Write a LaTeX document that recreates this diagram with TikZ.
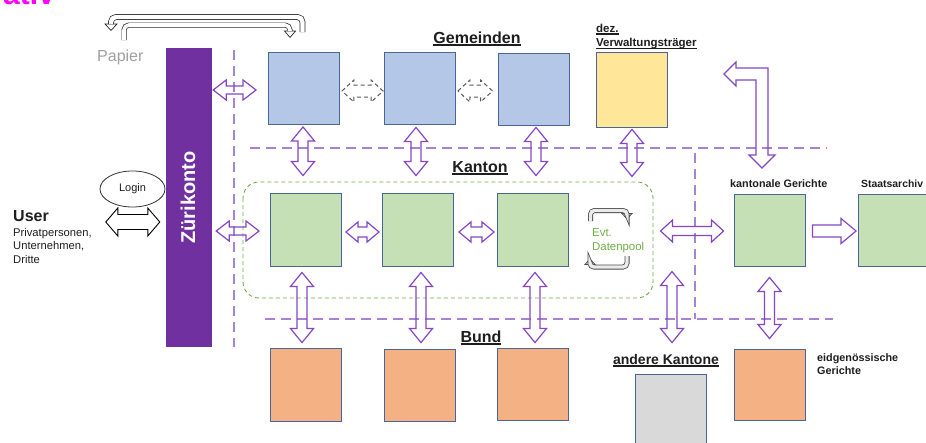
\documentclass[tikz,border=0pt]{standalone}
\usepackage{fontspec}
\setmainfont{Liberation Sans}
\usetikzlibrary{calc,shapes.geometric}
\definecolor{zpurple}{HTML}{7030A0}
\definecolor{apurple}{HTML}{8547C6}
\definecolor{dpurple}{HTML}{A882D6}
\definecolor{bfill}{HTML}{B4C7E7}
\definecolor{yfill}{HTML}{FFE699}
\definecolor{gfill}{HTML}{C5E0B4}
\definecolor{ofill}{HTML}{F4B183}
\definecolor{grfill}{HTML}{D9D9D9}
\definecolor{bline}{HTML}{4A6699}
\definecolor{dgreen}{HTML}{70AD47}
\definecolor{mag}{HTML}{FF00FF}
\definecolor{txt}{HTML}{1E1E1E}
\definecolor{papgray}{HTML}{A0A0A0}
\newcommand\myfs[1]{\fontsize{#1}{#1}\selectfont}
\newcommand\myul[1]{\setbox0=\hbox{#1}\rlap{\rule[-2.6pt]{\wd0}{1.3pt}}\box0}
\def\ahl{13pt}\def\ahw{11pt}\def\asw{5pt}
\newcommand\HDArrow[3][]{\draw[parrow,#1] let \p1=#2, \p2=#3 in
  (\x1,\y1) -- (\x1+\ahl,\y1+\ahw) -- (\x1+\ahl,\y1+\asw) -- (\x2-\ahl,\y1+\asw) -- (\x2-\ahl,\y1+\ahw) -- (\x2,\y1)
  -- (\x2-\ahl,\y1-\ahw) -- (\x2-\ahl,\y1-\asw) -- (\x1+\ahl,\y1-\asw) -- (\x1+\ahl,\y1-\ahw) -- cycle;}
\newcommand\VDArrow[3][]{\draw[parrow,#1] let \p1=#2, \p2=#3 in
  (\x1,\y1) -- (\x1+\ahw,\y1-\ahl) -- (\x1+\asw,\y1-\ahl) -- (\x1+\asw,\y2+\ahl) -- (\x1+\ahw,\y2+\ahl) -- (\x1,\y2)
  -- (\x1-\ahw,\y2+\ahl) -- (\x1-\asw,\y2+\ahl) -- (\x1-\asw,\y1-\ahl) -- (\x1-\ahw,\y1-\ahl) -- cycle;}
\newcommand\HSArrow[3][]{\draw[parrow,#1] let \p1=#2, \p2=#3 in
  (\x1,\y1+\asw) -- (\x2-\ahl,\y1+\asw) -- (\x2-\ahl,\y1+\ahw) -- (\x2,\y1) -- (\x2-\ahl,\y1-\ahw) -- (\x2-\ahl,\y1-\asw) -- (\x1,\y1-\asw) -- cycle;}
\tikzset{
  box/.style={draw=bline, line width=0.9pt, inner sep=0pt, minimum width=71pt, minimum height=72pt},
  parrow/.style={draw=apurple, line width=1.2pt, line join=miter},
  garrow/.style={draw=black!65, line width=1pt, dash pattern=on 4pt off 3pt},
  barrow/.style={draw=black, line width=0.9pt, fill=white},
  pdash/.style={draw=dpurple, line width=1.4pt, dash pattern=on 10pt off 6pt},
  lbl/.style={text=txt, inner sep=0pt},
  papshaft/.style={draw=black!85, line width=0.7pt, double=white, rounded corners=5pt},
  paphead/.style={draw=black!85, line width=0.7pt, fill=white, line join=miter},
  dpshaft/.style={draw=black!70, line width=0.8pt, double=black!8, double distance=3.4pt, rounded corners=4pt},
  dphead/.style={draw=black!70, line width=0.8pt, fill=black!8, line join=miter},
}
\begin{document}
\begin{tikzpicture}[x=1pt,y=-1pt]
\useasboundingbox (0,0) rectangle (926,442);
\clip (0,0) rectangle (926,442);
\fill[white] (0,0) rectangle (926,442);

% cut-off title
\node[anchor=base east, inner sep=0pt, text=mag, font=\bfseries\myfs{30}] (title) at (55,4) {ativ};

% dashed separators
\draw[pdash] (234,50) -- (234,347);
\draw[pdash] (250,148) -- (827,148);
\draw[pdash] (695,153) -- (695,319);
\draw[pdash] (265,319) -- (833,319);

% Kanton data pool region
\draw[dgreen, line width=0.9pt, dash pattern=on 4pt off 3pt, rounded corners=16pt] (243,182) rectangle (653,298);

% Zuerikonto bar
\node[fill=zpurple, inner sep=0pt, minimum width=46pt, minimum height=299pt] (Z) at (189,197.5) {};
\node[rotate=90, anchor=base, inner sep=0pt, text=white, font=\bfseries\myfs{20}] (Ztext) at (195,197.5) {Zürikonto};

% boxes
\node[box, fill=bfill] (B1) at (304,88.5) {};
\node[box, fill=bfill] (B2) at (420,88) {};
\node[box, fill=bfill] (B3) at (533.5,89) {};
\node[box, fill=yfill, minimum height=75pt] (Y) at (631.5,89.5) {};
\node[box, fill=gfill, minimum height=73pt] (G1) at (306,229.5) {};
\node[box, fill=gfill, minimum height=73pt] (G2) at (418,229.5) {};
\node[box, fill=gfill, minimum height=73pt] (G3) at (533,229.5) {};
\node[box, fill=gfill] (KG) at (769.5,230) {};
\node[box, fill=gfill] (SA) at (894,230) {};
\node[box, fill=ofill, minimum height=73pt] (O1) at (306,384.5) {};
\node[box, fill=ofill] (O2) at (419.5,385) {};
\node[box, fill=ofill] (O3) at (533,384) {};
\node[box, fill=ofill, minimum height=71pt] (OE) at (769.5,384.5) {};
\node[box, fill=grfill, minimum height=73pt] (GR) at (670.5,410.5) {};

% labels
\node[lbl, anchor=base, font=\bfseries\myfs{16}] (gem) at (477,43) {\myul{Gemeinden}};
\node[lbl, anchor=base west, font=\bfseries\myfs{11.5}] (dez) at (596,32) {\myul{dez.}};
\node[lbl, anchor=base west, font=\bfseries\myfs{11.5}] (vwt) at (596,46.5) {\myul{Verwaltungsträger}};
\node[lbl, anchor=base, font=\bfseries\myfs{16}] (kan) at (480,172) {\myul{Kanton}};
\node[lbl, anchor=base, font=\bfseries\myfs{16}] (bund) at (481,342) {\myul{Bund}};
\node[lbl, anchor=base, font=\bfseries\myfs{14}] (ak) at (666,364) {\myul{andere Kantone}};
\node[lbl, anchor=base west, font=\bfseries\myfs{10.8}] (kgl) at (730,187.5) {kantonale Gerichte};
\node[lbl, anchor=base west, font=\bfseries\myfs{10.4}] (sal) at (861,187) {Staatsarchiv};
\node[lbl, anchor=base west, font=\bfseries\myfs{10.8}] (eg1) at (817,361) {eidgenössische};
\node[lbl, anchor=base west, font=\bfseries\myfs{10.8}] (eg2) at (817,374) {Gerichte};
\node[inner sep=0pt, anchor=base west, text=dgreen, font=\myfs{11.4}] (evt) at (592,236) {Evt.};
\node[inner sep=0pt, anchor=base west, text=dgreen, font=\myfs{11.4}] (dp) at (592,250) {Datenpool};
\node[lbl, anchor=base west, font=\bfseries\myfs{16}] (user) at (13,221) {User};
\node[lbl, anchor=base west, font=\myfs{11.2}] (u1) at (13,236) {Privatpersonen,};
\node[lbl, anchor=base west, font=\myfs{11.2}] (u2) at (13,249.5) {Unternehmen,};
\node[lbl, anchor=base west, font=\myfs{11.2}] (u3) at (13,263) {Dritte};
\node[inner sep=0pt, anchor=base west, text=papgray, font=\myfs{16}] (papier) at (97,61) {Papier};
\node[ellipse, draw=black!80, line width=0.8pt, fill=white, minimum width=65pt, minimum height=36pt, inner sep=0pt, font=\myfs{11}, text=txt] (login) at (132.5,189) {Login};

% paper U-turn arrows
\draw[paphead] (105,24) -- (117,24) -- (111,30.5) -- cycle;
\draw[papshaft, double distance=4.4pt] (302.5,32) -- (302.5,17) -- (111,17) -- (111,24);
\draw[paphead] (284.5,31) -- (295.5,31) -- (290,37.5) -- cycle;
\draw[papshaft, double distance=3.6pt] (124,40) -- (124,25) -- (290,25) -- (290,31);

% data pool loop arrows
\draw[dphead] (622,213.5) -- (632,213.5) -- (627,219) -- cycle;
\draw[dpshaft] (590.5,221) -- (590.5,210.5) -- (627,210.5) -- (627,213.5);
\draw[dphead] (585,264.5) -- (595,264.5) -- (590,259) -- cycle;
\draw[dpshaft] (627,256) -- (627,267) -- (590,267) -- (590,264.5);

% user arrow
{\def\ahl{12pt}\def\ahw{14pt}\def\asw{7.5pt}
\HDArrow[barrow]{($(Z.west)+(-60,24.5)$)}{($(Z.west)+(-6,24.5)$)}}

% horizontal purple arrows
{\def\ahl{13pt}\def\ahw{10pt}\def\asw{4pt}
\HDArrow{($(Z.east|-B1.west)+(1,1.5)$)}{($(B1.west)+(-12,1.5)$)}
\HDArrow{($(Z.east|-G1.west)+(4,1.5)$)}{($(G1.west)+(-11,1.5)$)}}
{\def\ahl{12pt}\def\ahw{10pt}\def\asw{5pt}
\HDArrow{($(G1.east)+(4,2.5)$)}{($(G2.west)+(-3,2.5)$)}
\HDArrow{($(G2.east)+(5,2.5)$)}{($(G3.west)+(-3,2.5)$)}}
{\def\ahl{12pt}\def\ahw{11pt}\def\asw{4.5pt}
\HDArrow{($(KG.west)+(-73,1)$)}{($(KG.west)+(-10,1)$)}}
{\def\ahl{15pt}\def\ahw{12.5pt}\def\asw{6pt}
\HSArrow{($(KG.east)+(7,1)$)}{($(SA.west)+(-2,1)$)}}

% dashed grey arrows between municipalities
{\def\ahl{12pt}\def\ahw{11pt}\def\asw{6pt}
\HDArrow[garrow]{($(B1.east)+(2,2.5)$)}{($(B2.west)+(-1,2.5)$)}
\HDArrow[garrow]{($(B2.east)+(2,3)$)}{($(B3.west)+(-5,3)$)}}

% vertical purple arrows
{\def\ahl{14pt}\def\ahw{11.5pt}\def\asw{5pt}
\VDArrow{($(B1.south)+(-1,2)$)}{($(G1.north)+(-3,-17)$)}
\VDArrow{($(B2.south)+(-4,3)$)}{($(G2.north)+(-2,-17)$)}
\VDArrow{($(B3.south)+(2.5,2)$)}{($(G3.north)+(3,-17)$)}
\VDArrow{($(Y.south)+(0.5,2)$)}{($(Y.south)+(0.5,49)$)}
\VDArrow{($(G1.south)+(-4,6)$)}{($(O1.north)+(-4,-5)$)}
\VDArrow{($(G2.south)+(3,6)$)}{($(O2.north)+(1.5,-6)$)}
\VDArrow{($(G3.south)+(2,6)$)}{($(O3.north)+(2,-5)$)}
\VDArrow{($(GR.north)+(1.5,-102)$)}{($(GR.north)+(1.5,-31)$)}
\VDArrow{($(KG.south)+(0,11)$)}{($(OE.north)+(0,-10)$)}}

% L-shaped arrow top right
\draw[parrow] (724,74) -- (736,62) -- (736,68) -- (768,68) -- (768,155) -- (775,155) -- (762,168)
  -- (749,155) -- (756,155) -- (756,80) -- (736,80) -- (736,86) -- cycle;
\end{tikzpicture}
\end{document}
